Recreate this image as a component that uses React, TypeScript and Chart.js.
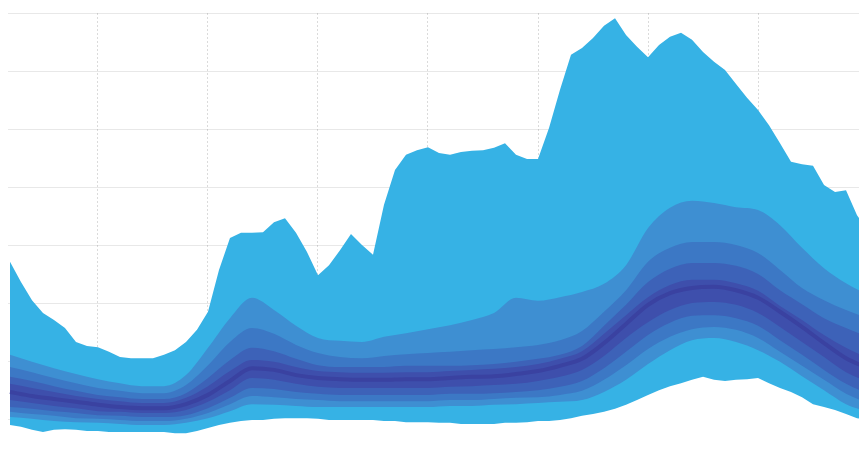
import React, { useEffect, useRef } from "react";
import { Chart, registerables } from "chart.js";

Chart.register(...registerables);

// Envelope series are sampled every half step, percentile bands every step.
const ENVELOPE_START = -4;
const ENVELOPE_STEP = 0.5;
const BAND_START = -4;
const BAND_STEP = 1;

const maxEnvelope = [
  3.72, 3.37, 3.06, 2.84, 2.72, 2.58, 2.34, 2.27, 2.25, 2.17,
  2.08, 2.06, 2.06, 2.06, 2.12, 2.2, 2.34, 2.55, 2.86, 3.58,
  4.13, 4.22, 4.22, 4.23, 4.4, 4.47, 4.22, 3.89, 3.49, 3.66,
  3.92, 4.2, 4.01, 3.84, 4.7, 5.3, 5.56, 5.64, 5.69, 5.59,
  5.56, 5.61, 5.63, 5.64, 5.68, 5.76, 5.56, 5.49, 5.49, 6.02,
  6.68, 7.28, 7.4, 7.57, 7.78, 7.91, 7.62, 7.42, 7.24, 7.45,
  7.59, 7.66, 7.54, 7.33, 7.16, 7.02, 6.78, 6.54, 6.33, 6.07,
  5.76, 5.44, 5.4, 5.37, 5.04, 4.92, 4.95, 4.52, 4.27,
];

const minEnvelope = [
  0.91, 0.88, 0.83, 0.79, 0.83, 0.84, 0.83, 0.81, 0.81, 0.79,
  0.79, 0.79, 0.79, 0.79, 0.79, 0.77, 0.77, 0.81, 0.86, 0.91,
  0.95, 0.98, 1.0, 1.0, 1.02, 1.03, 1.03, 1.03, 1.02, 1.0,
  1.0, 1.0, 1.0, 1.0, 0.98, 0.98, 0.96, 0.96, 0.96, 0.95,
  0.95, 0.93, 0.93, 0.93, 0.93, 0.95, 0.95, 0.96, 0.98, 0.98,
  1.0, 1.03, 1.07, 1.1, 1.14, 1.19, 1.26, 1.34, 1.43, 1.51,
  1.58, 1.63, 1.69, 1.74, 1.69, 1.67, 1.69, 1.7, 1.72, 1.63,
  1.55, 1.48, 1.39, 1.27, 1.22, 1.17, 1.1, 1.03, 1.0,
];

const p90 = [
  2.12, 2.0, 1.89, 1.79, 1.7, 1.63, 1.58, 1.58, 1.77, 2.24,
  2.75, 3.1, 2.89, 2.62, 2.41, 2.36, 2.34, 2.43, 2.49, 2.56,
  2.63, 2.72, 2.84, 3.1, 3.05, 3.11, 3.2, 3.34, 3.66, 4.3,
  4.65, 4.77, 4.73, 4.66, 4.61, 4.35, 3.96, 3.61, 3.35, 3.15,
];

const p80 = [
  1.91, 1.82, 1.72, 1.63, 1.55, 1.5, 1.46, 1.46, 1.6, 1.94,
  2.34, 2.58, 2.48, 2.29, 2.15, 2.08, 2.06, 2.1, 2.13, 2.15,
  2.17, 2.2, 2.22, 2.25, 2.29, 2.37, 2.53, 2.86, 3.23, 3.72,
  3.96, 4.06, 4.06, 4.01, 3.87, 3.58, 3.27, 3.06, 2.89, 2.75,
];

const p70 = [
  1.74, 1.67, 1.58, 1.5, 1.43, 1.39, 1.36, 1.36, 1.46, 1.72,
  2.03, 2.24, 2.18, 2.05, 1.94, 1.91, 1.91, 1.91, 1.93, 1.93,
  1.93, 1.94, 1.96, 2.0, 2.05, 2.12, 2.27, 2.62, 2.98, 3.37,
  3.6, 3.7, 3.7, 3.65, 3.51, 3.23, 2.99, 2.75, 2.58, 2.43,
];

const p60 = [
  1.62, 1.55, 1.48, 1.41, 1.36, 1.32, 1.29, 1.29, 1.38, 1.58,
  1.84, 2.03, 2.0, 1.91, 1.84, 1.82, 1.81, 1.81, 1.82, 1.82,
  1.84, 1.86, 1.88, 1.91, 1.96, 2.05, 2.18, 2.48, 2.8, 3.11,
  3.32, 3.41, 3.41, 3.35, 3.22, 2.96, 2.72, 2.46, 2.24, 2.06,
];

const median = [
  1.48, 1.41, 1.36, 1.31, 1.26, 1.22, 1.2, 1.2, 1.27, 1.43,
  1.67, 1.89, 1.86, 1.77, 1.72, 1.7, 1.69, 1.69, 1.7, 1.7,
  1.72, 1.74, 1.75, 1.79, 1.84, 1.93, 2.05, 2.32, 2.65, 2.98,
  3.18, 3.27, 3.29, 3.23, 3.1, 2.86, 2.6, 2.32, 2.06, 1.89,
];

const p40 = [
  1.34, 1.29, 1.24, 1.2, 1.15, 1.14, 1.12, 1.12, 1.17, 1.31,
  1.51, 1.72, 1.69, 1.62, 1.57, 1.55, 1.55, 1.55, 1.55, 1.55,
  1.57, 1.58, 1.6, 1.62, 1.67, 1.74, 1.86, 2.1, 2.41, 2.68,
  2.89, 3.01, 3.03, 2.98, 2.84, 2.6, 2.34, 2.08, 1.82, 1.65,
];

const p30 = [
  1.22, 1.19, 1.15, 1.12, 1.08, 1.07, 1.05, 1.05, 1.08, 1.2,
  1.38, 1.55, 1.53, 1.48, 1.45, 1.43, 1.43, 1.43, 1.43, 1.43,
  1.45, 1.45, 1.46, 1.48, 1.51, 1.57, 1.67, 1.89, 2.17, 2.46,
  2.67, 2.79, 2.8, 2.75, 2.62, 2.37, 2.12, 1.86, 1.62, 1.45,
];

const p20 = [
  1.14, 1.1, 1.07, 1.03, 1.02, 1.0, 0.98, 0.98, 1.02, 1.12,
  1.27, 1.41, 1.39, 1.36, 1.34, 1.32, 1.32, 1.32, 1.32, 1.32,
  1.34, 1.34, 1.36, 1.38, 1.39, 1.43, 1.5, 1.69, 1.94, 2.22,
  2.43, 2.56, 2.6, 2.55, 2.41, 2.17, 1.93, 1.69, 1.45, 1.29,
];

const p10 = [
  1.05, 1.02, 0.98, 0.96, 0.95, 0.93, 0.91, 0.91, 0.95, 1.03,
  1.15, 1.27, 1.26, 1.24, 1.22, 1.22, 1.22, 1.22, 1.22, 1.22,
  1.24, 1.24, 1.26, 1.27, 1.29, 1.31, 1.34, 1.48, 1.69, 1.96,
  2.2, 2.37, 2.41, 2.34, 2.2, 2.0, 1.75, 1.51, 1.27, 1.14,
];

const gridTicksX = [0, 5, 10, 15, 20, 25, 30];
const gridTicksY = [0, 1, 2, 3, 4, 5, 6, 7, 8];

const X_MIN = -4.09;
const X_MAX = 34.59;
const Y_MIN = 0;
const Y_MAX = 8;

const CYAN = "#36b2e5";
const BLUE_1 = "#3e8fd2";
const BLUE_2 = "#3c78c5";
const BLUE_3 = "#3d62b8";
const BLUE_4 = "#3e4fac";
const MEDIAN_LINE = "#3a42a1";

const toPoints = (values: number[], start: number, step: number) =>
  values.map((y, i) => ({ x: start + i * step, y }));

function area(
  label: string,
  values: number[],
  start: number,
  step: number,
  color: string,
  order: number,
  smooth: boolean
) {
  return {
    label,
    data: toPoints(values, start, step),
    backgroundColor: color,
    borderColor: color,
    borderWidth: 0,
    pointRadius: 0,
    fill: "origin",
    tension: smooth ? 0.4 : 0,
    cubicInterpolationMode: smooth ? ("monotone" as const) : ("default" as const),
    order,
  };
}

export default function App() {
  const canvasRef = useRef<HTMLCanvasElement | null>(null);

  useEffect(() => {
    const canvas = canvasRef.current;
    if (!canvas) return;

    // Bands are painted top-down: each series fills to the baseline and the
    // next one (lower order = drawn later) covers it, building the fan.
    const datasets: any[] = [
      area("max", maxEnvelope, ENVELOPE_START, ENVELOPE_STEP, CYAN, 10, false),
      area("p90", p90, BAND_START, BAND_STEP, BLUE_1, 9, true),
      area("p80", p80, BAND_START, BAND_STEP, BLUE_2, 8, true),
      area("p70", p70, BAND_START, BAND_STEP, BLUE_3, 7, true),
      area("p60", p60, BAND_START, BAND_STEP, BLUE_4, 6, true),
      area("p40", p40, BAND_START, BAND_STEP, BLUE_3, 5, true),
      area("p30", p30, BAND_START, BAND_STEP, BLUE_2, 4, true),
      area("p20", p20, BAND_START, BAND_STEP, BLUE_1, 3, true),
      area("p10", p10, BAND_START, BAND_STEP, CYAN, 2, true),
      area("min", minEnvelope, ENVELOPE_START, ENVELOPE_STEP, "#ffffff", 1, false),
      {
        label: "median",
        data: toPoints(median, BAND_START, BAND_STEP),
        borderColor: MEDIAN_LINE,
        borderWidth: 4,
        pointRadius: 0,
        fill: false,
        tension: 0.4,
        cubicInterpolationMode: "monotone",
        order: 0,
      },
    ];

    const chart = new Chart(canvas, {
      type: "line",
      data: { datasets },
      options: {
        animation: false,
        responsive: false,
        maintainAspectRatio: false,
        layout: { padding: { left: 8, top: 13, right: 0, bottom: 1 } },
        plugins: {
          legend: { display: false },
          tooltip: { enabled: false },
        },
        scales: {
          x: {
            type: "linear",
            min: X_MIN,
            max: X_MAX,
            z: 1,
            afterBuildTicks: (scale: any) => {
              scale.ticks = gridTicksX.map((value) => ({ value }));
            },
            ticks: { display: false },
            grid: {
              color: "rgba(90, 90, 90, 0.22)",
              lineWidth: 1,
              drawTicks: false,
            },
            border: { display: false, dash: [2, 2] },
          },
          y: {
            type: "linear",
            min: Y_MIN,
            max: Y_MAX,
            z: 1,
            afterBuildTicks: (scale: any) => {
              scale.ticks = gridTicksY.map((value) => ({ value }));
            },
            ticks: { display: false },
            grid: {
              color: "rgba(90, 90, 90, 0.14)",
              lineWidth: 1,
              drawTicks: false,
            },
            border: { display: false },
          },
        },
      },
    });

    return () => {
      chart.destroy();
    };
  }, []);

  return (
    <div
      style={{
        position: "fixed",
        left: 0,
        top: 0,
        width: 859,
        height: 475,
        overflow: "hidden",
        background: "#ffffff",
      }}
    >
      <canvas
        ref={canvasRef}
        width={859}
        height={479}
        style={{ display: "block", width: 859, height: 479 }}
      />
    </div>
  );
}
